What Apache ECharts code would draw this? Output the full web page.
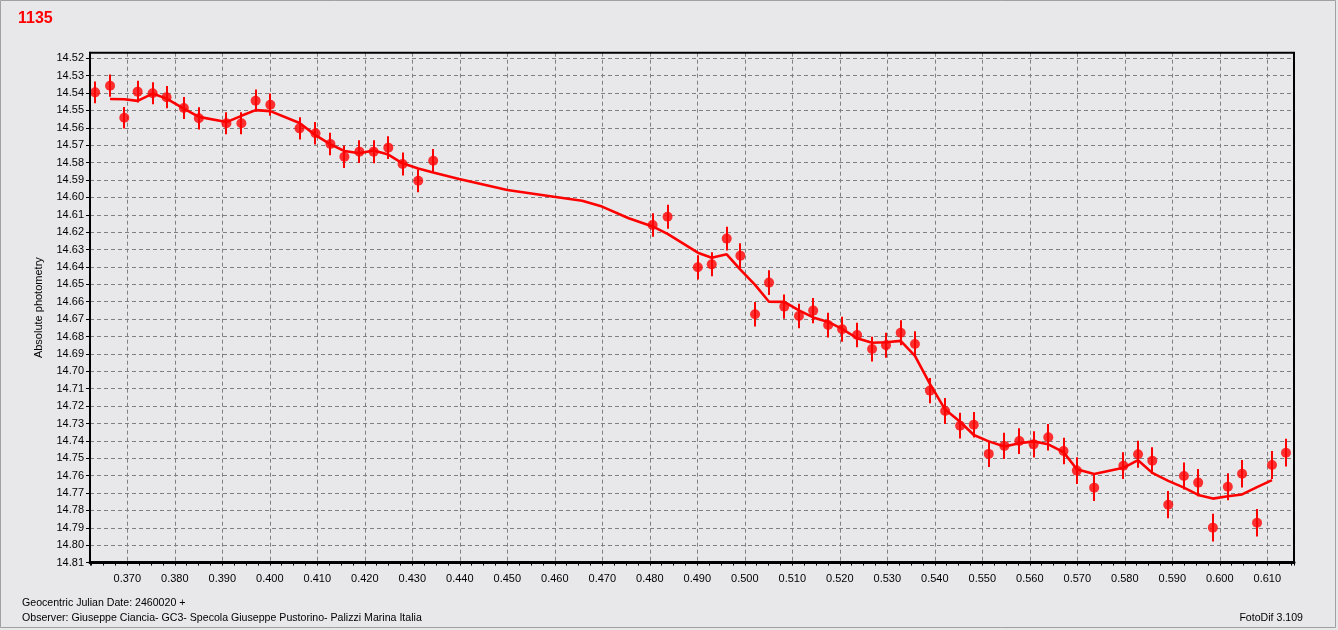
<!DOCTYPE html>
<html>
<head>
<meta charset="utf-8">
<script src="https://cdn.jsdelivr.net/npm/echarts@6/dist/echarts.min.js"></script>
<style>
  html, body { margin: 0; padding: 0; background: #e8e8ea; }
  #chart { width: 1338px; height: 630px; }
</style>
</head>
<body>
<div id="chart"></div>
<script>
// ---- data ----
const chartTitle = '1135';
const yAxisTitle = 'Absolute photometry';
const footerDate = 'Geocentric Julian Date: 2460020 +';
const footerObserver = 'Observer: Giuseppe Ciancia- GC3- Specola Giuseppe Pustorino- Palizzi Marina Italia';
const footerSoftware = 'FotoDif 3.109';

const xRange = [0.36215, 0.61562];
const yRange = [14.5168, 14.81];
const xStep = 0.01;
const yStep = 0.01;

const obsTime = [
  0.36322, 0.36637, 0.36937, 0.37218, 0.37533, 0.37827, 0.38191, 0.38506, 0.39087, 0.39402,
  0.39702, 0.40011, 0.40626, 0.40962, 0.41277, 0.41571, 0.41886, 0.42186, 0.42495, 0.42795,
  0.43125, 0.43440,
  0.48059, 0.48374, 0.49011, 0.49304, 0.49619, 0.49907, 0.50216, 0.50510, 0.50831, 0.51140,
  0.51440, 0.51755, 0.52049, 0.52364, 0.52679, 0.52973, 0.53282, 0.53582, 0.53897, 0.54218,
  0.54533, 0.54821, 0.55136, 0.55465, 0.55780, 0.56080, 0.56389, 0.56710, 0.56990, 0.57355,
  0.57970, 0.58279, 0.58579, 0.58915, 0.59245, 0.59545, 0.59854, 0.60169, 0.60469, 0.60784,
  0.61099, 0.61393
];
const obsMag = [
  14.5396, 14.5358, 14.5542, 14.5392, 14.5401, 14.5424, 14.5486, 14.5545, 14.5574, 14.5574,
  14.5444, 14.5467, 14.5603, 14.5631, 14.5693, 14.5766, 14.5737, 14.5737, 14.5714, 14.5808,
  14.5904, 14.5789,
  14.6159, 14.6111, 14.6402, 14.6385, 14.6237, 14.6335, 14.6672, 14.6490, 14.6628, 14.6682,
  14.6651, 14.6734, 14.6758, 14.6791, 14.6872, 14.6850, 14.6778, 14.6843, 14.7111, 14.7228,
  14.7313, 14.7307, 14.7475, 14.7429, 14.7401, 14.7420, 14.7379, 14.7458, 14.7571, 14.7669,
  14.7543, 14.7477, 14.7514, 14.7767, 14.7602, 14.7640, 14.7899, 14.7664, 14.7589, 14.7871,
  14.7539, 14.7468
];
const obsErr = [
  0.0063, 0.0064, 0.0062, 0.0063, 0.0063, 0.0064, 0.0063, 0.0064, 0.0063, 0.0063,
  0.0064, 0.0064, 0.0064, 0.0065, 0.0065, 0.0065, 0.0065, 0.0066, 0.0065, 0.0066,
  0.0066, 0.0067,
  0.0068, 0.0069, 0.0070, 0.0069, 0.0068, 0.0071, 0.0071, 0.0071, 0.0070, 0.0071,
  0.0072, 0.0071, 0.0072,
  0.0070, 0.0071, 0.0072, 0.0072, 0.0073, 0.0072, 0.0075, 0.0074, 0.0073, 0.0075,
  0.0075, 0.0074, 0.0075, 0.0076, 0.0076,
  0.0077, 0.0077, 0.0077, 0.0078, 0.0077, 0.0078, 0.0078, 0.0078, 0.0080, 0.0078,
  0.0079, 0.0079, 0.0080, 0.0080
];

const fitTime = [
  0.36637, 0.36937, 0.37218, 0.37533, 0.37827, 0.38191, 0.38506, 0.39087, 0.39402, 0.39702,
  0.40011, 0.40626, 0.40962, 0.41277, 0.41571, 0.41886, 0.42186, 0.42495, 0.42795, 0.43125,
  0.43440, 0.43986, 0.45000, 0.45981, 0.46575, 0.46995, 0.47556, 0.48059, 0.48374, 0.49011,
  0.49304, 0.49619, 0.49907, 0.50216, 0.50510, 0.50831, 0.51140, 0.51440, 0.51755, 0.52049,
  0.52364, 0.52679, 0.52973, 0.53282, 0.53582, 0.53897, 0.54218, 0.54533, 0.54821, 0.55136,
  0.55465, 0.55780, 0.56080, 0.56389, 0.56710, 0.56990, 0.57355, 0.57970, 0.58279, 0.58579,
  0.58915, 0.59245, 0.59545, 0.59854, 0.60169, 0.60469, 0.60784, 0.61099
];
const fitMag = [
  14.5434, 14.5436, 14.5445, 14.5403, 14.5432, 14.5490, 14.5537, 14.5567, 14.5531, 14.5498,
  14.5504, 14.5572, 14.5642, 14.5695, 14.5733, 14.5746, 14.5730, 14.5754, 14.5804, 14.5834,
  14.5857, 14.5894, 14.5957, 14.5996, 14.6019, 14.6053, 14.6120, 14.6167, 14.6210, 14.6318,
  14.6347, 14.6327, 14.6415, 14.6503, 14.6600, 14.6601, 14.6650, 14.6690, 14.6716, 14.6756,
  14.6810, 14.6836, 14.6833, 14.6825, 14.6911, 14.7072, 14.7220, 14.7290, 14.7366, 14.7403,
  14.7432, 14.7414, 14.7403, 14.7420, 14.7465, 14.7563, 14.7590, 14.7555, 14.7511, 14.7584,
  14.7630, 14.7669, 14.7711, 14.7732, 14.7718, 14.7708, 14.7666, 14.7626
];

// ---- chart ----
const FONT = '"Liberation Sans", Arial, sans-serif';
const RED = '#ff0000';
const GRID = { left: 90, right: 44, top: 52.7, bottom: 67.4 };
const W = 1338, H = 630;
const chart = echarts.init(document.getElementById('chart'), null, { renderer: 'canvas' });

function isMultiple(v, step) {
  const k = Math.round(v / step);
  return Math.abs(v / step - k) < 1e-6;
}

const option = {
  backgroundColor: '#e8e8ea',
  animation: false,
  grid: {
    left: GRID.left, right: GRID.right, top: GRID.top, bottom: GRID.bottom,
    show: false, outerBoundsMode: 'none'
  },
  xAxis: {
    type: 'value',
    min: xRange[0], max: xRange[1],
    minInterval: xStep, maxInterval: xStep, splitNumber: 25,
    axisLine: { show: true, onZero: false, lineStyle: { color: '#000', width: 3 } },
    axisTick: { show: true, inside: false, length: 3, lineStyle: { color: '#000', width: 1 } },
    minorTick: { show: true, splitNumber: 4, length: 3, lineStyle: { color: '#000', width: 1 } },
    axisLabel: {
      show: true, margin: 11, color: '#000', fontFamily: FONT, fontSize: 11,
      showMinLabel: false, showMaxLabel: false, hideOverlap: false,
      formatter: v => isMultiple(v, xStep) ? (Math.round(v / xStep) * xStep).toFixed(3) : ''
    },
    splitLine: { show: true, lineStyle: { color: '#808080', width: 1, type: [4, 3] } },
    minorSplitLine: { show: false }
  },
  yAxis: {
    type: 'value',
    inverse: true,
    min: yRange[0], max: yRange[1],
    minInterval: yStep, maxInterval: yStep, splitNumber: 29,
    name: yAxisTitle,
    nameLocation: 'middle', nameGap: 46, nameRotate: 90,
    nameTextStyle: { color: '#000', fontFamily: FONT, fontSize: 11 },
    axisLine: { show: true, onZero: false, lineStyle: { color: '#000', width: 2 } },
    axisTick: { show: true, inside: false, length: 4, lineStyle: { color: '#000', width: 1 } },
    axisLabel: {
      show: true, margin: 6, color: '#000', fontFamily: FONT, fontSize: 11,
      showMinLabel: false, hideOverlap: false,
      formatter: v => isMultiple(v, yStep) ? (Math.round(v / yStep) * yStep).toFixed(2) : ''
    },
    splitLine: { show: true, lineStyle: { color: '#808080', width: 1, type: [4, 3] } }
  },
  series: [
    {
      type: 'custom',
      name: 'errors',
      data: obsTime.map((t, i) => [t, obsMag[i], obsErr[i]]),
      encode: { x: 0, y: 1 },
      z: 3,
      renderItem: function (params, api) {
        const x = api.value(0), y = api.value(1), e = api.value(2);
        const p1 = api.coord([x, y - e]);
        const p2 = api.coord([x, y + e]);
        const px = Math.round(p1[0]);
        return {
          type: 'line',
          shape: { x1: px, y1: p1[1], x2: px, y2: p2[1] },
          style: { stroke: RED, lineWidth: 2 }
        };
      }
    },
    {
      type: 'line',
      name: 'fit',
      data: fitTime.map((t, i) => [t, fitMag[i]]),
      symbol: 'none',
      smooth: false,
      z: 4,
      lineStyle: { color: RED, width: 2.6 }
    },
    {
      type: 'scatter',
      name: 'obs',
      data: obsTime.map((t, i) => [t, obsMag[i]]),
      symbol: 'circle',
      symbolSize: 10,
      z: 5,
      itemStyle: { color: RED }
    }
  ],
  graphic: [
    {
      type: 'rect', silent: true, z: -10,
      shape: { x: 0.5, y: 0.5, width: 1335, height: 627 },
      style: { fill: 'none', stroke: '#a0a0a0', lineWidth: 1 }
    },
    {
      type: 'rect', silent: true, z: 100,
      shape: { x: GRID.left, y: GRID.top, width: W - GRID.left - GRID.right, height: H - GRID.top - GRID.bottom },
      style: { fill: 'none', stroke: '#000', lineWidth: 2 }
    },
    {
      type: 'text', x: 18, y: 19,
      style: { text: chartTitle, fill: RED, font: 'bold 16px ' + FONT, textAlign: 'left', textVerticalAlign: 'middle' }
    },
    {
      type: 'text', x: 22, y: 603,
      style: { text: footerDate, fill: '#000', font: '10.6px ' + FONT, textAlign: 'left', textVerticalAlign: 'middle' }
    },
    {
      type: 'text', x: 22, y: 618,
      style: { text: footerObserver, fill: '#000', font: '10.6px ' + FONT, textAlign: 'left', textVerticalAlign: 'middle' }
    },
    {
      type: 'text', x: 1303, y: 618,
      style: { text: footerSoftware, fill: '#000', font: '10.6px ' + FONT, textAlign: 'right', textVerticalAlign: 'middle' }
    }
  ]
};
chart.setOption(option);
</script>
</body>
</html>
